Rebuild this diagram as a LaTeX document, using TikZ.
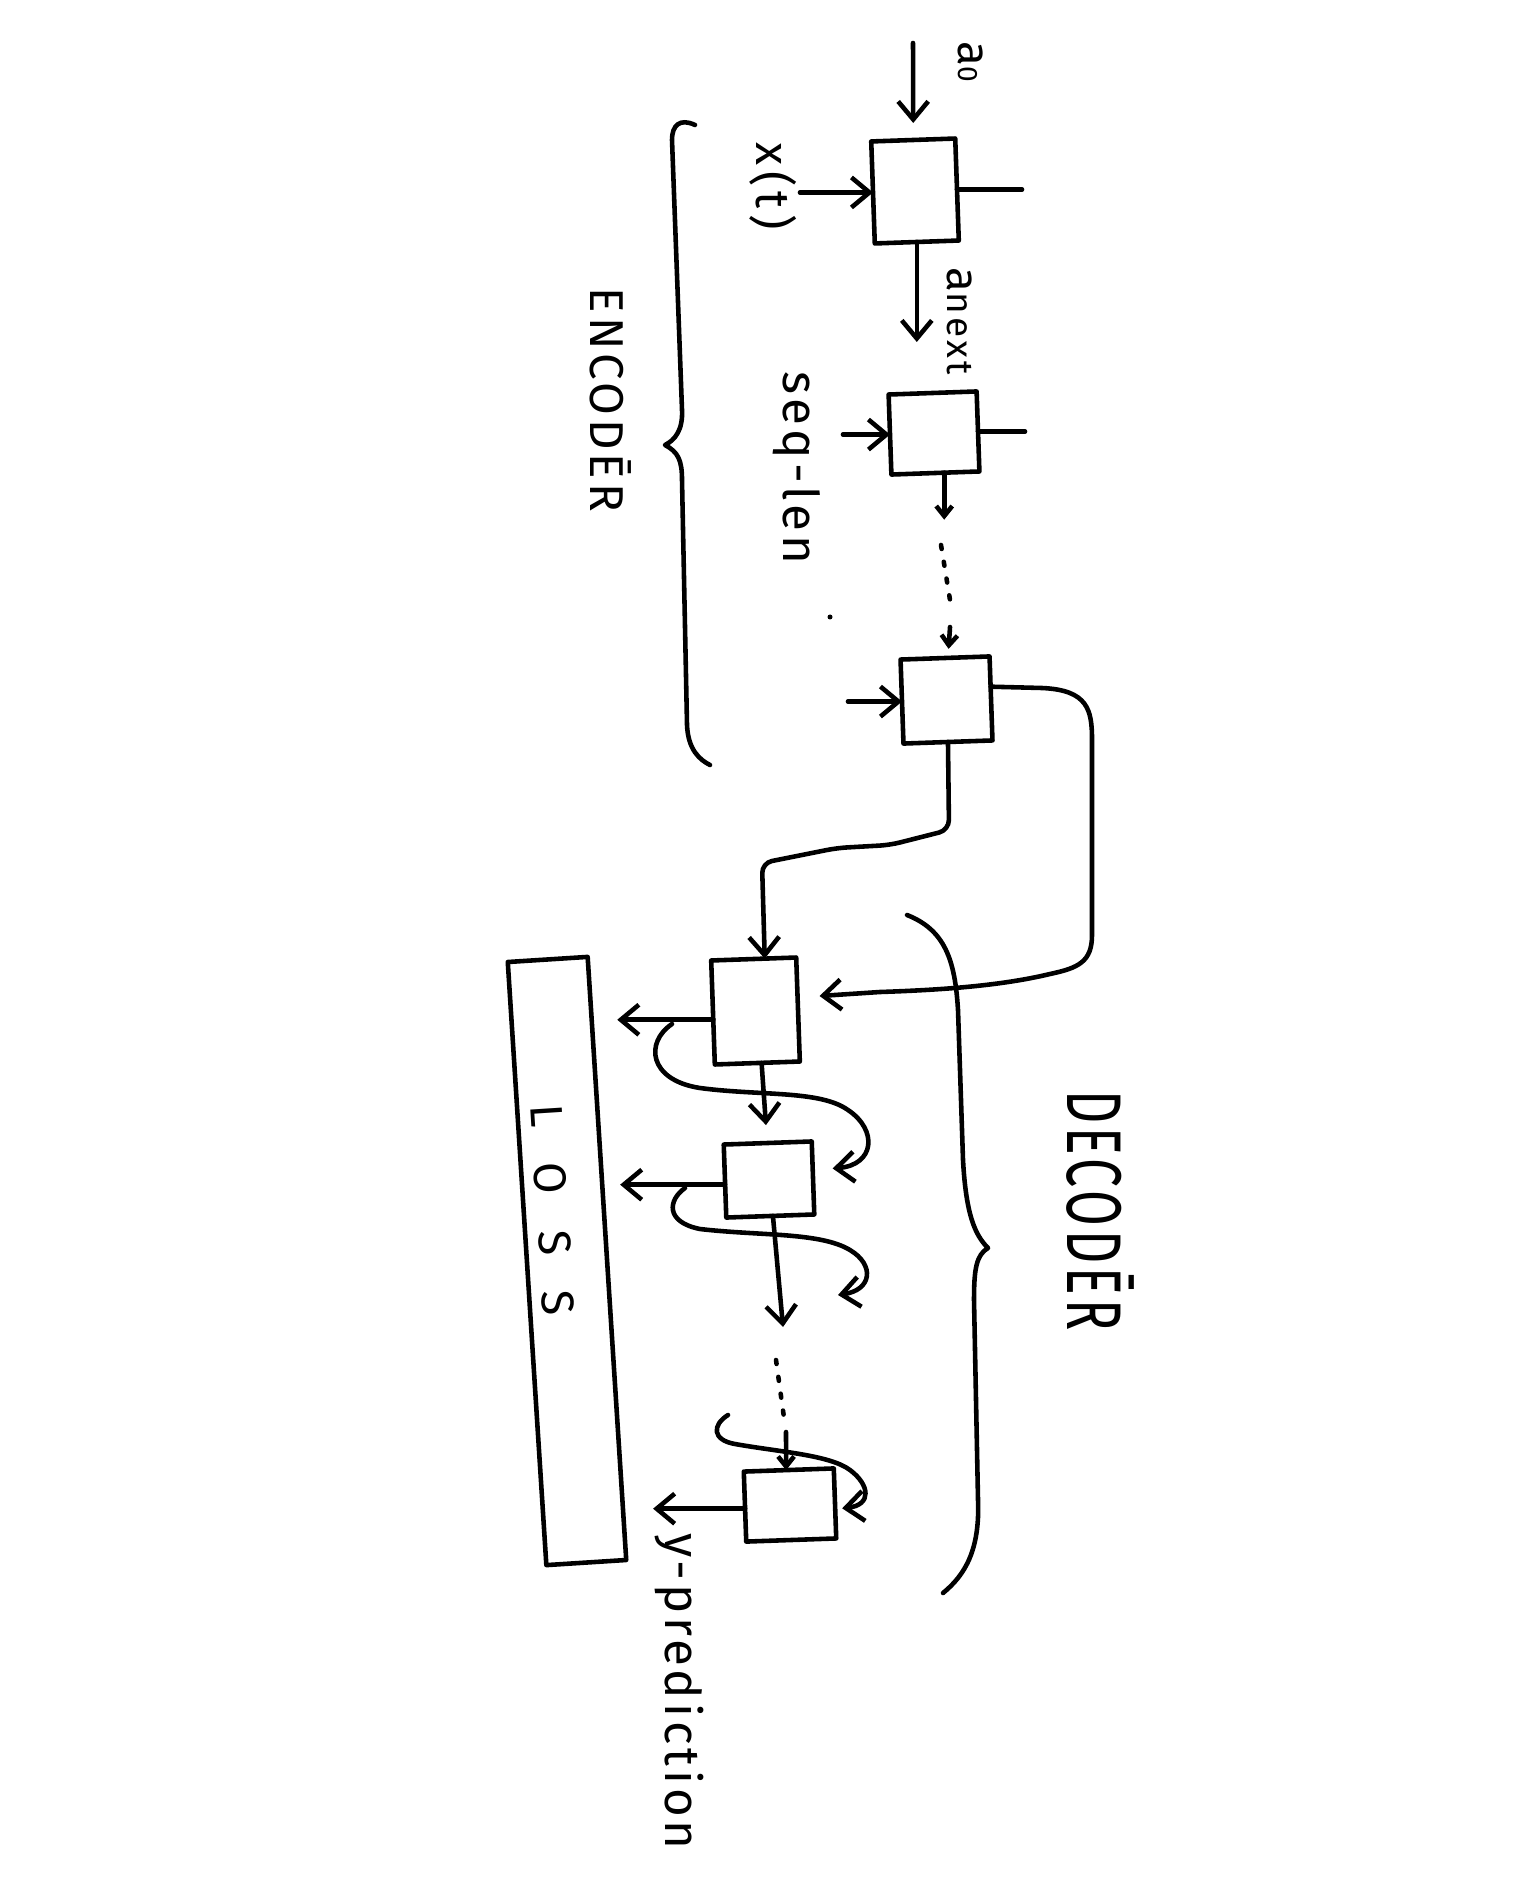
\documentclass[tikz,border=0pt]{standalone}
\usepackage{fontspec}
\usepackage{graphicx}
\setmainfont{Fira Sans}
\newfontfamily\hand[LetterSpace=8]{Fira Sans}
\newcommand\handsize[1]{\fontsize{#1}{#1}\selectfont}
\usetikzlibrary{arrows.meta,calc}

\tikzset{
  pen/.style={line width=1.3pt, line cap=round, line join=round},
  arr/.style={pen, -{Straight Barb[length=1.8mm,width=3mm]}},
  tick/.style={pen, -{Straight Barb[length=1mm,width=1.6mm]}},
  cell/.style={draw, pen, rectangle, rotate=2, inner sep=0pt, outer sep=0pt},
  lbl/.style={rotate=-90, anchor=base west, inner sep=0pt, outer sep=0pt},
  tiltlbl/.style={rotate=-86.34, anchor=base west, inner sep=0pt, outer sep=0pt},
  dots/.style={pen, dash pattern=on 0.04cm off 0.13cm}
}

\begin{document}
\begin{tikzpicture}[x=0.01cm,y=-0.01cm]
  \fill[white] (0,0) rectangle (1536,1904);
  \useasboundingbox (0,0) rectangle (1536,1904);

  % ---------------- encoder cells ----------------
  \node[cell, minimum width=0.84cm, minimum height=1.02cm] (E1) at (915,191) {};
  \node[cell, minimum width=0.88cm, minimum height=0.80cm] (E2) at (934,433) {};
  \node[cell, minimum width=0.89cm, minimum height=0.84cm] (E3) at (946.5,700) {};

  % ---------------- decoder cells ----------------
  \node[cell, minimum width=0.85cm, minimum height=1.04cm] (D1) at (755.5,1011) {};
  \node[cell, minimum width=0.88cm, minimum height=0.73cm] (D2) at (769,1179.5) {};
  \node[cell, minimum width=0.90cm, minimum height=0.70cm] (D3) at (790,1505) {};

  % loss bar
  \node[draw, pen, rectangle, rotate=3.66, inner sep=0pt,
        minimum width=0.80cm, minimum height=6.04cm] (loss) at (567,1261) {};

  % ---------------- labels ----------------
  \node[lbl, font=\hand\handsize{13}] (la0) at (958,42) {a{\handsize{8}0}};
  \node[lbl, font=\hand\handsize{13}] (lanext) at (947,268) {a{\handsize{10.5}next}};
  \node[lbl, font=\hand\handsize{13.5}] (lxt) at (756,143) {x\kern1.5pt(\kern1.5pt t\kern1.5pt)};
  \node[lbl, font=\hand\handsize{14}] (lseq) at (783,372) {seq-len};
  \node[lbl, font=\hand\handsize{13.5}] (lenc) at (590,288) {ENCODĒR};
  \node[lbl, font=\hand\handsize{14.7}] (ldec) at (1067,1090) {\scalebox{1}[1.5]{DECODĒR}};
  \node[tiltlbl, font=\handsize{13}] (lloss) at (530,1105) {\makebox[2.12cm][s]{L\hfil O\hfil S\hfil S}};
  \node[lbl, font=\hand\handsize{14}] (lpred) at (665,1533) {y-prediction};

  % ---------------- encoder wiring ----------------
  \coordinate (a0s) at (913,43);
  \draw[arr] (a0s) -- ([yshift=0.17cm]E1.north);
  \draw[arr] ([xshift=-0.73cm]E1.west) -- (E1.west);
  \draw[pen] (E1.east) -- ++(65,0);
  \draw[arr] (E1.south) -- ++(0,100);

  \draw[arr] ([xshift=-0.47cm]E2.west) -- (E2.west);
  \draw[pen] (E2.east) -- ++(47,0);
  \draw[tick] ($(E2.south west)!0.6!(E2.south east)$) -- ++(0,47);
  \draw[dots] (941,545) -- (950,600);
  \fill (830,617) circle[radius=0.025cm];
  \draw[tick] (950,627) -- ($(E3.north west)!0.54!(E3.north east)+(0,-9)$);

  \draw[arr] ([xshift=-0.54cm]E3.west) -- (E3.west);

  % hidden state handed over to the decoder
  \draw[arr] ($(E3.north east)!0.36!(E3.south east)$) -- (1042,688)
    .. controls (1088,690) and (1092,710) .. (1092,740) -- (1092,935)
    .. controls (1092,962) and (1078,968) .. (1050,974)
    .. controls (1000,986) and (940,990) .. (880,992)
    -- ($(D1.north east)!0.37!(D1.south east)+(22,0)$);
  \draw[arr, rounded corners=0.1cm] ($(E3.south west)!0.5!(E3.south east)$)
    -- (949,830) -- (890,845) -- (837,848) -- (762,863)
    -- ($(D1.north west)!0.63!(D1.north east)$);

  % ---------------- decoder wiring ----------------
  \draw[arr] ($(D1.north west)!0.57!(D1.south west)$) -- ++(-96,0);
  \coordinate (b1) at (672,1024);
  \draw[arr] (b1) .. controls (645,1042) and (648,1080) .. (700,1088)
    .. controls (760,1096) and (820,1090) .. (848,1110)
    .. controls (878,1130) and (875,1165) .. ($(D2.north east)!0.37!(D2.south east)+(20,0)$);
  \draw[arr] ($(D1.south west)!0.55!(D1.south east)$) -- ($(D2.north west)!0.48!(D2.north east)+(0,-18)$);

  \draw[arr] ($(D2.north west)!0.55!(D2.south west)$) -- ++(-105,0);
  \coordinate (b2) at (685,1188);
  \coordinate (f2) at (838,1295);
  \draw[arr] (b2) .. controls (668,1200) and (665,1222) .. (700,1229)
    .. controls (760,1236) and (820,1232) .. (850,1250)
    .. controls (875,1265) and (872,1290) .. (f2);
  \coordinate (d2down) at (783,1327);
  \draw[arr] ($(D2.south west)!0.53!(D2.south east)$) -- (d2down);
  \draw[dots] (776,1360) -- (785,1425);
  \draw[tick] (786,1432) -- ($(D3.north west)!0.47!(D3.north east)$);

  \coordinate (f3) at (728,1415);
  \draw[arr] (f3) .. controls (712,1425) and (712,1440) .. (735,1444)
    .. controls (780,1452) and (830,1455) .. (850,1470)
    .. controls (870,1485) and (872,1505) .. ($(D3.north east)!0.57!(D3.south east)+(7,0)$);
  \draw[arr] ($(D3.north west)!0.53!(D3.south west)$) -- ++(-92,0);

  % ---------------- braces ----------------
  \draw[pen] (695,125) .. controls (680,118) and (672,125) .. (672,140)
    -- (682,410) .. controls (683,430) and (675,440) .. (665,445)
    .. controls (678,452) and (682,460) .. (682,480)
    -- (687,725) .. controls (688,750) and (700,760) .. (710,765);
  \draw[pen] (907,915) .. controls (945,930) and (955,960) .. (958,1010)
    -- (963,1160) .. controls (966,1215) and (975,1235) .. (988,1248)
    .. controls (976,1255) and (974,1270) .. (974,1300)
    -- (978,1500) .. controls (980,1550) and (965,1575) .. (943,1593);
\end{tikzpicture}
\end{document}
